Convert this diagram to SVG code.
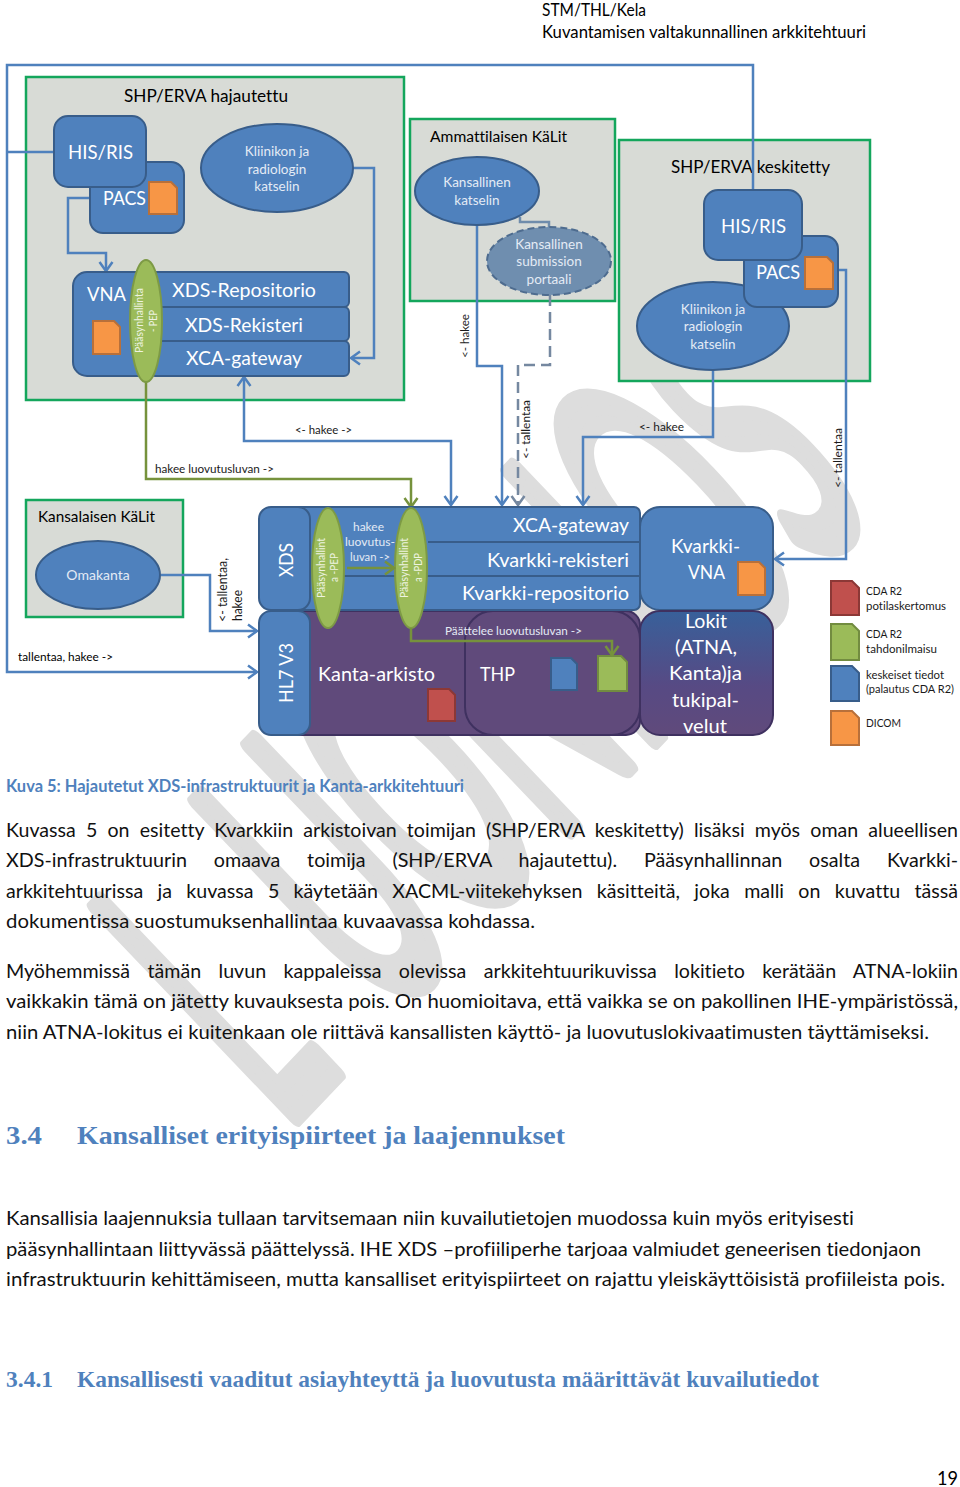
<svg xmlns="http://www.w3.org/2000/svg" width="960" height="1487" viewBox="0 0 960 1487">
<style>
text{font-family:"Lato","Liberation Sans",sans-serif;font-variant-ligatures:none}
.w{fill:#fff}
.lw{fill:#e4ebf5}
.k{fill:#000}
.k2{fill:#1a1a1a}
.box{fill:#d8dbd6;stroke:#14a65c;stroke-width:2.5}
.b{fill:#4f81bd;stroke:#385d8a;stroke-width:2}
.p{fill:#604a7b;stroke:#3f3160;stroke-width:2}
.g{fill:#9bbb59;stroke:#7d9a45;stroke-width:2}
.c{fill:none;stroke:#4f81bd;stroke-width:2.5}
.cg{fill:none;stroke:#76923c;stroke-width:2.5}
.cd{fill:none;stroke:#7588a0;stroke-width:2.5;stroke-dasharray:11 6}
.or{fill:#f79646;stroke:#b8703a;stroke-width:2}
.re{fill:#c0504d;stroke:#8c3836;stroke-width:2}
.gr{fill:#9bbb59;stroke:#728c40;stroke-width:2}
.bl{fill:#4f81bd;stroke:#385d8a;stroke-width:2}
.h{fill:#4f81bd;font-family:"Liberation Serif",serif;font-weight:bold}
.body{font-size:19px;fill:#111}
</style>
<defs>
<marker id="a" markerUnits="userSpaceOnUse" markerWidth="16" markerHeight="16" viewBox="0 0 16 16" refX="13" refY="8" orient="auto-start-reverse"><path d="M4,1.5 L13,8 L4,14.5" fill="none" stroke="#4f81bd" stroke-width="2.5"/></marker>
<marker id="ag" markerUnits="userSpaceOnUse" markerWidth="16" markerHeight="16" viewBox="0 0 16 16" refX="13" refY="8" orient="auto"><path d="M4,1.5 L13,8 L4,14.5" fill="none" stroke="#76923c" stroke-width="2.5"/></marker>
<marker id="ad" markerUnits="userSpaceOnUse" markerWidth="16" markerHeight="16" viewBox="0 0 16 16" refX="13" refY="8" orient="auto"><path d="M4,1.5 L13,8 L4,14.5" fill="none" stroke="#7588a0" stroke-width="2.5"/></marker>
<linearGradient id="lok" x1="0" y1="0" x2="0" y2="1"><stop offset="0" stop-color="#38609a"/><stop offset="0.6" stop-color="#574a84"/><stop offset="1" stop-color="#604a7b"/></linearGradient>
</defs>
<rect width="960" height="1487" fill="#fff"/>
<g id="watermark"><text transform="matrix(0.248 -0.261 0.618 0.648 283 1130)" font-size="450" fill="#dddddd" stroke="#dddddd" stroke-width="22" stroke-linejoin="round" dx="0 190">LUONNOS</text></g>

<g id="header"><text x="542" y="16" font-size="16.5" class="k" textLength="104" lengthAdjust="spacingAndGlyphs">STM/THL/Kela</text><text x="542" y="38" font-size="16.5" class="k" textLength="324" lengthAdjust="spacingAndGlyphs">Kuvantamisen valtakunnallinen arkkitehtuuri</text></g>

<g id="box-hajautettu"><rect class="box" x="26" y="77" width="378" height="323"/><text x="124" y="102" font-size="18" class="k" textLength="164" lengthAdjust="spacingAndGlyphs">SHP/ERVA hajautettu</text></g>
<g id="box-ammattilainen"><rect class="box" x="410" y="119" width="205" height="182"/><text x="430" y="142" font-size="15.5" class="k" textLength="137" lengthAdjust="spacingAndGlyphs">Ammattilaisen KäLit</text></g>
<g id="box-keskitetty"><rect class="box" x="619" y="140" width="251" height="241"/><text x="671" y="173" font-size="18" class="k" textLength="159" lengthAdjust="spacingAndGlyphs">SHP/ERVA keskitetty</text></g>
<g id="box-kansalainen"><rect class="box" x="26" y="500" width="157" height="117"/><text x="38" y="522" font-size="15" class="k" textLength="117" lengthAdjust="spacingAndGlyphs">Kansalaisen KäLit</text></g>

<g id="connectors">
<path class="c" d="M54,152 H7"/>
<path class="c" d="M753,190 V65 H7 V672 H257" marker-end="url(#a)"/>
<path class="c" d="M90,198 H68 V253 H106 V271" marker-end="url(#a)"/>
<path class="c" d="M353,168 H374 V358 H351" marker-end="url(#a)"/>
<path class="c" d="M244,377 V441 H451 V505" marker-end="url(#a)" marker-start="url(#a)"/>
<path class="c" d="M477,225 V366 H502 V505" marker-end="url(#a)"/>
<path fill="none" stroke="#6f8cab" stroke-width="2.5" d="M520,217 V222 H549 V228"/>
<path class="cd" d="M550,295 V365 H518 V505" marker-end="url(#ad)"/>
<path class="c" d="M713,370 V437 H583 V505" marker-end="url(#a)"/>
<path class="c" d="M838,270 H846 V559 H775" marker-end="url(#a)"/>
<path class="c" d="M161,575 H210 V631 H257" marker-end="url(#a)"/>
<path class="cg" d="M146,382 V479 H411 V507" marker-end="url(#ag)"/>
</g>

<g id="conn-labels">
<text x="295" y="434" font-size="11" class="k2" textLength="57" lengthAdjust="spacingAndGlyphs">&lt;- hakee -&gt;</text>
<text x="155" y="473" font-size="11" class="k2" textLength="119" lengthAdjust="spacingAndGlyphs">hakee luovutusluvan -&gt;</text>
<text x="639" y="431" font-size="11.5" class="k2" textLength="45" lengthAdjust="spacingAndGlyphs">&lt;- hakee</text>
<text transform="translate(469,358) rotate(-90)" font-size="11.5" class="k2" textLength="44" lengthAdjust="spacingAndGlyphs">&lt;- hakee</text>
<text transform="translate(530,459) rotate(-90)" font-size="11.5" class="k2" textLength="59" lengthAdjust="spacingAndGlyphs">&lt;- tallentaa</text>
<text transform="translate(842,488) rotate(-90)" font-size="11.5" class="k2" textLength="60" lengthAdjust="spacingAndGlyphs">&lt;- tallentaa</text>
<text transform="translate(227,622) rotate(-90)" font-size="12.5" class="k2" textLength="64" lengthAdjust="spacingAndGlyphs">&lt;- tallentaa,</text>
<text transform="translate(242,621) rotate(-90)" font-size="12.5" class="k2" textLength="31" lengthAdjust="spacingAndGlyphs">hakee</text>
<text x="18" y="661" font-size="11" class="k" textLength="95" lengthAdjust="spacingAndGlyphs">tallentaa, hakee -&gt;</text>
</g>

<g id="his-ris-1"><rect class="b" x="90" y="162" width="94" height="71" rx="13"/><text x="103" y="205" font-size="20" class="w" textLength="43" lengthAdjust="spacingAndGlyphs">PACS</text><path class="or" d="M149,182 H171 L177,188 V214 H149 Z"/><rect class="b" x="54" y="116" width="92" height="71" rx="14"/><text x="68" y="159" font-size="20" class="w" textLength="65" lengthAdjust="spacingAndGlyphs">HIS/RIS</text></g>
<g id="katselin-1"><ellipse class="b" cx="277" cy="168" rx="76" ry="44"/><g class="lw" font-size="13.5" text-anchor="middle"><text x="277" y="156">Kliinikon ja</text><text x="277" y="174">radiologin</text><text x="277" y="191">katselin</text></g></g>
<g id="vna-1"><rect class="b" x="73" y="272" width="90" height="104" rx="14"/><text x="87" y="301" font-size="20" class="w" textLength="39" lengthAdjust="spacingAndGlyphs">VNA</text><path class="or" d="M93,321 H114 L120,327 V354 H93 Z"/></g>
<g id="xds-rows-1"><rect class="b" x="150" y="272" width="199" height="35" rx="5"/><rect class="b" x="150" y="307" width="199" height="34" rx="5"/><rect class="b" x="150" y="341" width="199" height="35" rx="5"/><text x="172" y="297" font-size="20" class="w" textLength="144" lengthAdjust="spacingAndGlyphs">XDS-Repositorio</text><text x="185" y="332" font-size="20" class="w" textLength="118" lengthAdjust="spacingAndGlyphs">XDS-Rekisteri</text><text x="186" y="365" font-size="20" class="w" textLength="116" lengthAdjust="spacingAndGlyphs">XCA-gateway</text></g>
<g id="pep-1"><ellipse class="g" cx="146" cy="321" rx="16" ry="61"/><text transform="translate(143,353) rotate(-90)" font-size="10.5" fill="#eef3e0" textLength="65" lengthAdjust="spacingAndGlyphs">Pääsynhallinta</text><text transform="translate(157,332) rotate(-90)" font-size="10.5" fill="#eef3e0" textLength="22" lengthAdjust="spacingAndGlyphs">- PEP</text></g>

<g id="kansallinen-katselin"><ellipse class="b" cx="477" cy="191" rx="62" ry="34"/><g class="lw" font-size="13.5" text-anchor="middle"><text x="477" y="187">Kansallinen</text><text x="477" y="205">katselin</text></g></g>
<g id="submission"><ellipse cx="549" cy="261" rx="62" ry="34" fill="#6f8eaf" stroke="#4e6c8f" stroke-width="2" stroke-dasharray="7 4"/><g class="lw" font-size="13.5" text-anchor="middle"><text x="549" y="249">Kansallinen</text><text x="549" y="266">submission</text><text x="549" y="284">portaali</text></g></g>

<g id="katselin-2"><ellipse class="b" cx="713" cy="326" rx="76" ry="44"/><g class="lw" font-size="13.5" text-anchor="middle"><text x="713" y="314">Kliinikon ja</text><text x="713" y="331">radiologin</text><text x="713" y="349">katselin</text></g></g>
<g id="his-ris-2"><rect class="b" x="744" y="236" width="94" height="71" rx="13"/><text x="756" y="279" font-size="20" class="w" textLength="44" lengthAdjust="spacingAndGlyphs">PACS</text><path class="or" d="M805,257 H827 L833,263 V289 H805 Z"/><rect class="b" x="704" y="190" width="98" height="70" rx="14"/><text x="721" y="233" font-size="20" class="w" textLength="65" lengthAdjust="spacingAndGlyphs">HIS/RIS</text></g>

<g id="omakanta"><ellipse class="b" cx="98" cy="575" rx="62" ry="34"/><text x="98" y="580" font-size="14" class="lw" text-anchor="middle">Omakanta</text></g>

<g id="kanta-arkisto"><rect class="p" x="280" y="611" width="360" height="124" rx="14"/><text x="318" y="681" font-size="20" class="w" textLength="117" lengthAdjust="spacingAndGlyphs">Kanta-arkisto</text><path class="re" d="M428,689 H449 L455,695 V721 H428 Z"/></g>
<g id="thp"><rect class="p" x="465" y="611" width="175" height="124" rx="28"/><text x="480" y="681" font-size="20" class="w" textLength="35" lengthAdjust="spacingAndGlyphs">THP</text><path class="bl" d="M551,658 H571 L577,664 V690 H551 Z"/><path class="gr" d="M598,656 H621 L627,662 V691 H598 Z"/></g>
<g id="kvarkki-rows"><rect class="b" x="285" y="507" width="355" height="103" rx="6"/><path fill="none" stroke="#385d8a" stroke-width="2" d="M428,542 H640 M344,576 H640"/><text x="513" y="532" font-size="20" class="w" textLength="116" lengthAdjust="spacingAndGlyphs">XCA-gateway</text><text x="487" y="567" font-size="20" class="w" textLength="142" lengthAdjust="spacingAndGlyphs">Kvarkki-rekisteri</text><text x="462" y="600" font-size="20" class="w" textLength="167" lengthAdjust="spacingAndGlyphs">Kvarkki-repositorio</text></g>
<g id="xds"><rect class="b" x="259" y="507" width="51" height="103" rx="12"/><text transform="translate(293,577) rotate(-90)" font-size="20" class="w" textLength="34" lengthAdjust="spacingAndGlyphs">XDS</text></g>
<g id="hl7"><rect class="b" x="259" y="611" width="51" height="124" rx="12"/><text transform="translate(293,703) rotate(-90)" font-size="20" class="w" textLength="60" lengthAdjust="spacingAndGlyphs">HL7 V3</text></g>
<g id="kvarkki-vna"><rect class="b" x="640" y="507" width="133" height="103" rx="20"/><text x="671" y="553" font-size="20" class="w" textLength="69" lengthAdjust="spacingAndGlyphs">Kvarkki-</text><text x="688" y="579" font-size="20" class="w" textLength="37" lengthAdjust="spacingAndGlyphs">VNA</text><path class="or" d="M738,562 H759 L765,568 V595 H738 Z"/></g>
<g id="lokit"><rect x="640" y="611" width="133" height="124" rx="20" fill="url(#lok)" stroke="#3f3160" stroke-width="2"/><g class="w" font-size="20"><text x="685" y="628" textLength="42" lengthAdjust="spacingAndGlyphs">Lokit</text><text x="675" y="654" textLength="62" lengthAdjust="spacingAndGlyphs">(ATNA,</text><text x="669" y="680" textLength="73" lengthAdjust="spacingAndGlyphs">Kanta)ja</text><text x="672" y="707" textLength="67" lengthAdjust="spacingAndGlyphs">tukipal-</text><text x="683" y="733" textLength="44" lengthAdjust="spacingAndGlyphs">velut</text></g></g>

<g id="pep-2"><ellipse class="g" cx="328" cy="568" rx="16" ry="60"/><text transform="translate(325,598) rotate(-90)" font-size="10.5" fill="#eef3e0" textLength="60" lengthAdjust="spacingAndGlyphs">Pääsynhallint</text><text transform="translate(338,582) rotate(-90)" font-size="10.5" fill="#eef3e0" textLength="29" lengthAdjust="spacingAndGlyphs">a -PEP</text></g>
<g id="pdp"><ellipse class="g" cx="411" cy="568" rx="16" ry="60"/><text transform="translate(408,598) rotate(-90)" font-size="10.5" fill="#eef3e0" textLength="60" lengthAdjust="spacingAndGlyphs">Pääsynhallint</text><text transform="translate(422,582) rotate(-90)" font-size="10.5" fill="#eef3e0" textLength="29" lengthAdjust="spacingAndGlyphs">a -PDP</text></g>
<g id="inner-connectors">
<path class="cg" d="M347,568 H394" marker-end="url(#ag)"/>
<path class="cg" d="M411,628 V641 H612 V655" marker-end="url(#ag)"/>
<g class="lw" font-size="11.5"><text x="353" y="531" textLength="31" lengthAdjust="spacingAndGlyphs">hakee</text><text x="345" y="546" textLength="50" lengthAdjust="spacingAndGlyphs">luovutus-</text><text x="350" y="561" textLength="40" lengthAdjust="spacingAndGlyphs">luvan -&gt;</text><text x="445" y="635" textLength="137" lengthAdjust="spacingAndGlyphs">Päättelee luovutusluvan -&gt;</text></g>
</g>

<g id="legend">
<path class="re" d="M831,581 H852 L859,588 V615 H831 Z"/><path class="gr" d="M831,624 H852 L859,631 V660 H831 Z"/><path class="bl" d="M831,666 H852 L859,673 V701 H831 Z"/><path class="or" d="M831,711 H852 L859,718 V745 H831 Z"/>
<g font-size="11.5" class="k2"><text x="866" y="595" textLength="36" lengthAdjust="spacingAndGlyphs">CDA R2</text><text x="866" y="610" textLength="80" lengthAdjust="spacingAndGlyphs">potilaskertomus</text><text x="866" y="638" textLength="36" lengthAdjust="spacingAndGlyphs">CDA R2</text><text x="866" y="653" textLength="71" lengthAdjust="spacingAndGlyphs">tahdonilmaisu</text><text x="866" y="679" textLength="78" lengthAdjust="spacingAndGlyphs">keskeiset tiedot</text><text x="866" y="693" textLength="88" lengthAdjust="spacingAndGlyphs">(palautus CDA R2)</text><text x="866" y="727" textLength="35" lengthAdjust="spacingAndGlyphs">DICOM</text></g>
</g>

<g id="page-text">
<text x="6" y="792" font-size="16.5" font-weight="700" fill="#4f81bd" textLength="458" lengthAdjust="spacingAndGlyphs">Kuva 5: Hajautetut XDS-infrastruktuurit ja Kanta-arkkitehtuuri</text>
<g class="body" >
<text x="6" y="837" word-spacing="5" textLength="952" lengthAdjust="spacingAndGlyphs">Kuvassa 5 on esitetty Kvarkkiin arkistoivan toimijan (SHP/ERVA keskitetty) lisäksi myös oman alueellisen</text>
<text x="6" y="867" word-spacing="21" textLength="952" lengthAdjust="spacingAndGlyphs">XDS-infrastruktuurin omaava toimija (SHP/ERVA hajautettu). Pääsynhallinnan osalta Kvarkki-</text>
<text x="6" y="898" word-spacing="9" textLength="952" lengthAdjust="spacingAndGlyphs">arkkitehtuurissa ja kuvassa 5 käytetään XACML-viitekehyksen käsitteitä, joka malli on kuvattu tässä</text>
<text x="6" y="928" textLength="529" lengthAdjust="spacingAndGlyphs">dokumentissa suostumuksenhallintaa kuvaavassa kohdassa.</text>
<text x="6" y="978" word-spacing="12" textLength="952" lengthAdjust="spacingAndGlyphs">Myöhemmissä tämän luvun kappaleissa olevissa arkkitehtuurikuvissa lokitieto kerätään ATNA-lokiin</text>
<text x="6" y="1008" textLength="952" lengthAdjust="spacingAndGlyphs">vaikkakin tämä on jätetty kuvauksesta pois. On huomioitava, että vaikka se on pakollinen IHE-ympäristössä,</text>
<text x="6" y="1039" textLength="923" lengthAdjust="spacingAndGlyphs">niin ATNA-lokitus ei kuitenkaan ole riittävä kansallisten käyttö- ja luovutuslokivaatimusten täyttämiseksi.</text>
<text x="6" y="1225" textLength="848" lengthAdjust="spacingAndGlyphs">Kansallisia laajennuksia tullaan tarvitsemaan niin kuvailutietojen muodossa kuin myös erityisesti</text>
<text x="6" y="1256" textLength="915" lengthAdjust="spacingAndGlyphs">pääsynhallintaan liittyvässä päättelyssä. IHE XDS –profiiliperhe tarjoaa valmiudet geneerisen tiedonjaon</text>
<text x="6" y="1286" textLength="939" lengthAdjust="spacingAndGlyphs">infrastruktuurin kehittämiseen, mutta kansalliset erityispiirteet on rajattu yleiskäyttöisistä profiileista pois.</text>
</g>
<text x="6" y="1144" font-size="26" class="h" textLength="36" lengthAdjust="spacingAndGlyphs">3.4</text>
<text x="77" y="1144" font-size="26" class="h" textLength="488" lengthAdjust="spacingAndGlyphs">Kansalliset erityispiirteet ja laajennukset</text>
<text x="6" y="1387" font-size="23" class="h" textLength="47" lengthAdjust="spacingAndGlyphs">3.4.1</text>
<text x="77" y="1387" font-size="23" class="h" textLength="742" lengthAdjust="spacingAndGlyphs">Kansallisesti vaaditut asiayhteyttä ja luovutusta määrittävät kuvailutiedot</text>
<text x="937" y="1485" font-size="20" class="k" textLength="21" lengthAdjust="spacingAndGlyphs">19</text>
</g>
</svg>
